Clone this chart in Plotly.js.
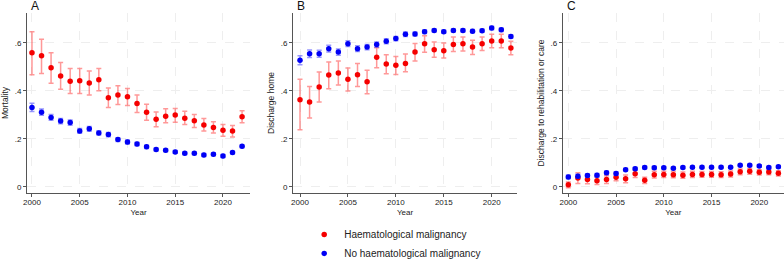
<!DOCTYPE html>
<html>
<head>
<meta charset="utf-8">
<script src="https://cdn.plot.ly/plotly-3.0.1.min.js"></script>
<style>html,body{margin:0;padding:0;background:#fff;}#chart{width:784px;height:259px;}</style>
</head>
<body>
<div id="chart"></div>
<script>
const years = [2000,2001,2002,2003,2004,2005,2006,2007,2008,2009,2010,2011,2012,2013,2014,2015,2016,2017,2018,2019,2020,2021,2022];
const seriesNames = ["Haematological malignancy", "No haematological malignancy"];
const panelLabels = ["A", "B", "C"];
const yTitles = ["Mortality", "Discharge home", "Discharge to rehabilitation or care"];
const xTickVals = [2000, 2005, 2010, 2015, 2020];
const yTickVals = [0, 0.2, 0.4, 0.6];
const yTickText = ["0", ".2", ".4", ".6"];

// Panel A: mortality
const mortHaem = [0.558,0.546,0.496,0.462,0.440,0.442,0.432,0.446,0.371,0.382,0.375,0.347,0.311,0.282,0.294,0.299,0.286,0.275,0.258,0.247,0.236,0.233,0.292];
const mortHaemHi = [0.646,0.614,0.558,0.518,0.493,0.493,0.482,0.493,0.412,0.421,0.410,0.382,0.344,0.312,0.325,0.326,0.315,0.301,0.285,0.271,0.260,0.256,0.317];
const mortHaemLo = [0.467,0.472,0.431,0.406,0.389,0.389,0.382,0.400,0.331,0.343,0.339,0.310,0.278,0.250,0.267,0.269,0.260,0.247,0.233,0.224,0.211,0.208,0.267];
const mortNo = [0.331,0.311,0.289,0.274,0.268,0.233,0.242,0.225,0.218,0.197,0.187,0.179,0.167,0.156,0.153,0.146,0.140,0.140,0.133,0.136,0.129,0.143,0.169];
const mortNoHalf = [0.017,0.013,0.012,0.011,0.011,0.010,0.010,0.009,0.009,0.008,0.008,0.007,0.007,0.006,0.006,0.006,0.006,0.006,0.006,0.006,0.006,0.006,0.006];

// Panel B: discharge home
const homeHaem = [0.363,0.353,0.416,0.466,0.474,0.448,0.467,0.438,0.539,0.511,0.506,0.514,0.561,0.596,0.571,0.567,0.593,0.596,0.582,0.596,0.607,0.607,0.578];
const homeHaemHi = [0.448,0.418,0.478,0.520,0.524,0.495,0.513,0.485,0.579,0.550,0.543,0.553,0.597,0.629,0.603,0.599,0.624,0.624,0.610,0.624,0.635,0.635,0.606];
const homeHaemLo = [0.238,0.287,0.353,0.409,0.424,0.399,0.418,0.388,0.496,0.471,0.468,0.479,0.524,0.560,0.540,0.536,0.563,0.565,0.551,0.568,0.579,0.579,0.550];
const homeNo = [0.527,0.554,0.554,0.575,0.561,0.596,0.575,0.582,0.592,0.606,0.617,0.635,0.636,0.646,0.651,0.646,0.651,0.651,0.648,0.650,0.661,0.654,0.626];
const homeNoHalf = [0.019,0.016,0.015,0.014,0.013,0.012,0.012,0.011,0.011,0.010,0.009,0.009,0.008,0.008,0.007,0.007,0.007,0.007,0.007,0.007,0.007,0.007,0.007];

// Panel C: discharge to rehabilitation or care
const rehabHaem = [0.009,0.037,0.031,0.026,0.031,0.041,0.034,0.055,0.028,0.051,0.052,0.051,0.049,0.052,0.052,0.052,0.051,0.054,0.063,0.065,0.061,0.062,0.057];
const rehabHaemHalf = [0.012,0.022,0.018,0.016,0.016,0.015,0.016,0.016,0.013,0.014,0.013,0.013,0.013,0.013,0.012,0.012,0.012,0.012,0.012,0.012,0.011,0.011,0.011];
const rehabNo = [0.042,0.045,0.048,0.049,0.059,0.056,0.072,0.076,0.081,0.080,0.080,0.078,0.081,0.082,0.082,0.082,0.082,0.082,0.090,0.090,0.087,0.081,0.084];
const rehabNoHalf = [0.008,0.008,0.007,0.007,0.007,0.007,0.006,0.006,0.006,0.006,0.005,0.005,0.005,0.005,0.005,0.005,0.005,0.005,0.005,0.005,0.005,0.005,0.005];

const RED = "#f50000", BLUE = "#0000f5";
const RED_ERR = "rgba(255,50,50,0.5)", BLUE_ERR = "rgba(50,50,255,0.5)";
const FONT = "Liberation Sans, Arial, Helvetica, sans-serif";

function errAsym(v, hi, lo) {
  return {type: "data", symmetric: false,
    array: v.map((d, i) => hi[i] - d), arrayminus: v.map((d, i) => d - lo[i]),
    color: RED_ERR, thickness: 1.5, width: 2.5};
}
function errSym(half, color) {
  return {type: "data", symmetric: true, array: half, color: color, thickness: 1.5, width: 2.5};
}
function trace(y, err, color, name, idx, show) {
  const s = idx === 0 ? "" : String(idx + 1);
  return {x: years, y: y, type: "scatter", mode: "markers", name: name,
    xaxis: "x" + s, yaxis: "y" + s, showlegend: show, legendgroup: name,
    marker: {color: color, size: 5.5, symbol: "circle"}, error_y: err};
}

const data = [
  trace(mortHaem, errAsym(mortHaem, mortHaemHi, mortHaemLo), RED, seriesNames[0], 0, true),
  trace(mortNo, errSym(mortNoHalf, BLUE_ERR), BLUE, seriesNames[1], 0, true),
  trace(homeHaem, errAsym(homeHaem, homeHaemHi, homeHaemLo), RED, seriesNames[0], 1, false),
  trace(homeNo, errSym(homeNoHalf, BLUE_ERR), BLUE, seriesNames[1], 1, false),
  trace(rehabHaem, errSym(rehabHaemHalf, RED_ERR), RED, seriesNames[0], 2, false),
  trace(rehabNo, errSym(rehabNoHalf, BLUE_ERR), BLUE, seriesNames[1], 2, false)
];

const W = 784, H = 259;
const xDomPx = [[27, 250], [293, 517], [562.7, 784]];
const xRanges = [[1999.48, 2022.83], [1999.27, 2022.64], [1999.41, 2022.59]];
const yDom = [(H - 193) / H, (H - 13) / H];
const yRange = [-0.025, 0.7235];

const layout = {
  width: W, height: H,
  margin: {l: 0, r: 0, t: 0, b: 0, autoexpand: false},
  paper_bgcolor: "#fff", plot_bgcolor: "#fff",
  font: {family: FONT, size: 8, color: "#222"},
  showlegend: true,
  legend: {x: 0.388, xanchor: "left", y: 0.151, yanchor: "top",
    font: {family: FONT, size: 10, color: "#222"}, itemclick: false,
    bgcolor: "rgba(0,0,0,0)", tracegroupgap: 0},
  annotations: [],
};

for (let i = 0; i < 3; i++) {
  const s = i === 0 ? "" : String(i + 1);
  layout["xaxis" + s] = {
    domain: [xDomPx[i][0] / W, Math.min(1, xDomPx[i][1] / W)],
    range: xRanges[i], anchor: "y" + s,
    tickvals: xTickVals, ticks: "outside", ticklen: 3, tickcolor: "#555", tickwidth: 1,
    ticklabelstandoff: -2,
    showline: true, linecolor: "#555", linewidth: 1,
    showgrid: true, gridcolor: "#eeeeee", gridwidth: 1, griddash: "dash",
    zeroline: false, tickfont: {size: 8, color: "#222"},
    title: {text: "Year", font: {size: 8, color: "#222"}, standoff: 3},
    fixedrange: true
  };
  layout["yaxis" + s] = {
    domain: yDom, range: yRange, anchor: "x" + s,
    tickvals: yTickVals, ticktext: yTickText,
    ticks: "outside", ticklen: 3, tickcolor: "#555", tickwidth: 1,
    showline: true, linecolor: "#555", linewidth: 1,
    showgrid: true, gridcolor: "#eeeeee", gridwidth: 1, griddash: "dash",
    zeroline: false, tickfont: {size: 8, color: "#222"},
    title: {text: yTitles[i], font: {size: 8.5, color: "#222"}, standoff: 4},
    fixedrange: true
  };
  layout.annotations.push({
    text: panelLabels[i], xref: "paper", yref: "paper",
    x: (xDomPx[i][0] + 2) / W, xanchor: "left", y: (H - 6) / H, yanchor: "middle",
    showarrow: false, font: {family: FONT, size: 12, color: "#111"}
  });
}

Plotly.newPlot("chart", data, layout, {staticPlot: true, displayModeBar: false});
</script>
</body>
</html>
